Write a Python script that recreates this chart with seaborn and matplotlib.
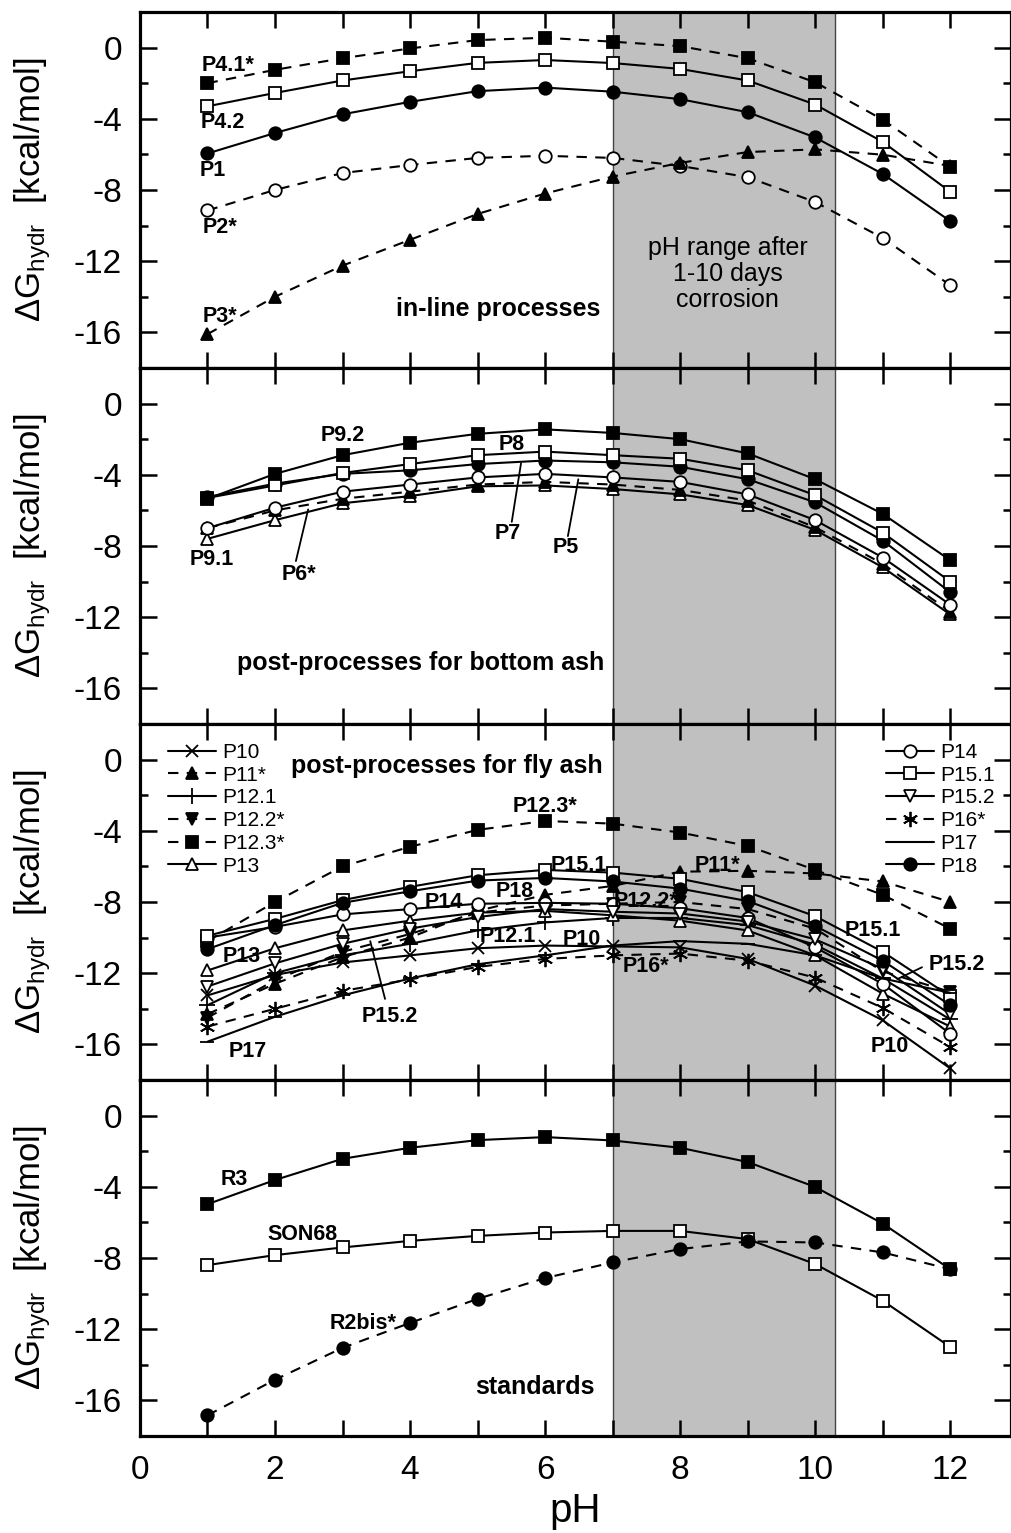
import numpy as np
import pandas as pd
import matplotlib
matplotlib.use("Agg")
import matplotlib.pyplot as plt
import seaborn as sns
from matplotlib.ticker import MultipleLocator

# ---------------- data ----------------
ph = [1, 2, 3, 4, 5, 6, 7, 8, 9, 10, 11, 12]

# panel 1: in-line processes
p4_1 = [-2.0, -1.25, -0.6, -0.05, 0.42, 0.55, 0.33, 0.08, -0.6, -1.95, -4.05, -6.7]
p4_2 = [-3.3, -2.55, -1.85, -1.33, -0.86, -0.7, -0.87, -1.2, -1.85, -3.2, -5.3, -8.1]
p1 = [-5.95, -4.8, -3.75, -3.05, -2.45, -2.25, -2.48, -2.9, -3.63, -5.05, -7.1, -9.75]
p2 = [-9.15, -8.0, -7.05, -6.6, -6.2, -6.08, -6.2, -6.65, -7.28, -8.68, -10.7, -13.35]
p3 = [-16.1, -14.0, -12.25, -10.8, -9.35, -8.2, -7.25, -6.48, -5.87, -5.72, -6.02, -6.65]

# panel 2: post-processes for bottom ash
p9_2 = [-5.35, -3.95, -2.9, -2.2, -1.7, -1.45, -1.65, -2.0, -2.8, -4.25, -6.2, -8.8]
p8 = [-5.3, -4.6, -3.9, -3.4, -2.9, -2.7, -2.9, -3.1, -3.75, -5.15, -7.25, -10.0]
p7 = [-5.25, -4.5, -3.95, -3.75, -3.4, -3.2, -3.3, -3.55, -4.25, -5.55, -7.7, -10.6]
p5 = [-7.0, -5.85, -4.95, -4.55, -4.15, -3.95, -4.15, -4.4, -5.1, -6.55, -8.65, -11.3]
p6 = [-7.0, -6.0, -5.35, -4.95, -4.55, -4.4, -4.55, -4.85, -5.45, -6.95, -9.0, -11.7]
p9_1 = [-7.6, -6.55, -5.6, -5.2, -4.65, -4.6, -4.8, -5.1, -5.7, -7.1, -9.2, -11.85]

# panel 3: post-processes for fly ash
p10 = [-13.25, -12.1, -11.4, -11.0, -10.6, -10.45, -10.5, -10.55, -11.2, -12.7, -14.65, -17.35]
p11 = [-14.3, -12.6, -11.1, -10.0, -8.5, -7.6, -7.1, -6.3, -6.25, -6.4, -6.85, -8.0]
p12_1 = [-13.8, -12.0, -11.0, -10.35, -9.6, -9.15, -8.9, -8.9, -9.3, -10.4, -12.3, -14.6]
p12_2 = [-14.5, -12.4, -10.8, -9.8, -8.6, -8.2, -8.1, -8.0, -8.4, -9.5, -11.9, -13.05]
p12_3 = [-10.2, -8.0, -6.0, -4.9, -3.95, -3.45, -3.6, -4.1, -4.85, -6.2, -7.6, -9.5]
p13 = [-11.85, -10.6, -9.6, -9.05, -8.6, -8.5, -8.75, -9.05, -9.6, -11.0, -13.15, -15.0]
p14 = [-10.0, -9.4, -8.7, -8.4, -8.1, -8.05, -8.1, -8.35, -8.9, -10.55, -12.6, -15.4]
p15_1 = [-9.9, -8.95, -7.9, -7.15, -6.5, -6.2, -6.35, -6.7, -7.45, -8.8, -10.8, -13.3]
p15_2 = [-12.75, -11.45, -10.35, -9.5, -8.85, -8.4, -8.55, -8.65, -9.1, -10.1, -11.75, -14.3]
p16 = [-15.0, -14.0, -13.0, -12.35, -11.65, -11.2, -11.0, -10.9, -11.3, -12.25, -13.95, -16.15]
p17 = [-15.85, -14.45, -13.25, -12.3, -11.5, -11.0, -10.45, -10.2, -10.35, -11.0, -12.3, -13.1]
p18 = [-10.65, -9.3, -8.05, -7.4, -6.8, -6.65, -6.85, -7.25, -7.95, -9.35, -11.3, -13.8]

# panel 4: standards
r3 = [-4.98, -3.62, -2.43, -1.81, -1.38, -1.21, -1.4, -1.81, -2.61, -4.01, -6.07, -8.63]
son68 = [-8.4, -7.84, -7.41, -7.04, -6.76, -6.57, -6.48, -6.48, -6.94, -8.34, -10.4, -13.0]
r2bis = [-16.84, -14.84, -13.05, -11.65, -10.3, -9.13, -8.25, -7.5, -7.07, -7.13, -7.69, -8.63]

corrosion_range = (7.0, 10.3)

# ---------------- style ----------------
sns.set_theme(style="ticks")
plt.rcParams["font.family"] = ["Liberation Sans", "DejaVu Sans"]
plt.rcParams["axes.unicode_minus"] = False
plt.rcParams["mathtext.fontset"] = "custom"
plt.rcParams["mathtext.rm"] = "Liberation Sans"
plt.rcParams["mathtext.it"] = "Liberation Sans:italic"
plt.rcParams["mathtext.bf"] = "Liberation Sans:bold"
for key in ["text.color", "axes.labelcolor", "xtick.color", "ytick.color", "axes.edgecolor"]:
    plt.rcParams[key] = "black"

DASH = (0, (5, 4))


def series(ax, y, marker, filled=True, dashed=False, ms=9):
    sns.lineplot(x=ph, y=y, ax=ax, color="black", marker=marker, markersize=ms,
                 markerfacecolor="black" if filled else "white",
                 markeredgecolor="black", markeredgewidth=1.3,
                 linestyle=DASH if dashed else "-", linewidth=1.5, zorder=3)
    return ax.get_lines()[-1]


fig = plt.figure(figsize=(10.12, 15.33), dpi=100)
left, right, bottom, top = 0.1383, 0.999, 0.0633, 0.9922
h = (top - bottom) / 4
axes = [fig.add_axes([left, top - (i + 1) * h, right - left, h]) for i in range(4)]

for i, ax in enumerate(axes):
    ax.axvspan(*corrosion_range, facecolor="#c0c0c0", edgecolor="#444444",
               linewidth=1.0, zorder=0)
    ax.set_xlim(0, 12.9)
    ax.set_ylim(-18, 2)
    ax.xaxis.set_major_locator(MultipleLocator(2))
    ax.xaxis.set_minor_locator(MultipleLocator(1))
    ax.yaxis.set_major_locator(MultipleLocator(4))
    ax.yaxis.set_minor_locator(MultipleLocator(2))
    ax.tick_params(which="both", direction="in", top=True, right=True,
                   width=1.8, colors="black", labelsize=24)
    ax.tick_params(axis="x", which="both", length=11.5, pad=14)
    ax.tick_params(axis="y", which="major", length=12, pad=13)
    ax.tick_params(axis="y", which="minor", length=6)
    for sp in ax.spines.values():
        sp.set_linewidth(2.3)
        sp.set_color("black")
    ax.set_ylabel(r"$\Delta$G$_{\rm hydr}$  [kcal/mol]", fontsize=25)
    ax.yaxis.set_label_coords(-0.1, 0.5)
    if i < 3:
        ax.tick_params(axis="x", labelbottom=False)
        ax.set_xlabel("")
    else:
        ax.set_xlabel("pH", fontsize=29, labelpad=4)

LB = dict(fontsize=15.5, fontweight="bold", ha="center", va="center", zorder=5, color="black")
TITLE = dict(fontsize=18, fontweight="bold", ha="center", va="center", zorder=5, color="black")
LEAD = dict(arrowstyle="-", color="black", lw=1.3)

# ---- panel 1 ----
ax = axes[0]
series(ax, p4_1, "s", True, True)
series(ax, p4_2, "s", False, False)
series(ax, p1, "o", True, False)
series(ax, p2, "o", False, True)
series(ax, p3, "^", True, True)
ax.text(1.3, -1.0, "P4.1*", **LB)
ax.text(1.22, -4.2, "P4.2", **LB)
ax.text(1.08, -6.9, "P1", **LB)
ax.text(1.18, -10.1, "P2*", **LB)
ax.text(1.18, -15.1, "P3*", **LB)
ax.text(5.3, -14.7, "in-line processes", **TITLE)
ax.text(8.7, -12.7, "pH range after\n1-10 days\ncorrosion", fontsize=18,
        ha="center", va="center", linespacing=1.1, zorder=5, color="black")

# ---- panel 2 ----
ax = axes[1]
series(ax, p9_1, "^", False, False)
series(ax, p6, "^", True, True)
series(ax, p5, "o", False, False)
series(ax, p7, "o", True, False)
series(ax, p8, "s", False, False)
series(ax, p9_2, "s", True, False)
ax.text(3.0, -1.8, "P9.2", **LB)
ax.text(5.5, -2.3, "P8", **LB)
ax.text(5.45, -7.3, "P7", **LB)
ax.annotate("", xy=(5.65, -3.2), xytext=(5.5, -6.8), arrowprops=LEAD)
ax.text(6.3, -8.1, "P5", **LB)
ax.annotate("", xy=(6.5, -4.1), xytext=(6.33, -7.6), arrowprops=LEAD)
ax.text(2.35, -9.6, "P6*", **LB)
ax.annotate("", xy=(2.5, -5.8), xytext=(2.3, -9.0), arrowprops=LEAD)
ax.text(1.07, -8.75, "P9.1", **LB)
ax.text(4.15, -14.6, "post-processes for bottom ash", **TITLE)

# ---- panel 3 ----
ax = axes[2]
h10 = series(ax, p10, "x", True, False)
h11 = series(ax, p11, "^", True, True)
h121 = series(ax, p12_1, "+", True, False, ms=11)
h122 = series(ax, p12_2, "v", True, True)
h123 = series(ax, p12_3, "s", True, True, ms=8)
h13 = series(ax, p13, "^", False, False)
h14 = series(ax, p14, "o", False, False)
h151 = series(ax, p15_1, "s", False, False)
h152 = series(ax, p15_2, "v", False, False)
h16 = series(ax, p16, (6, 2, 0), True, True, ms=11)
h17 = series(ax, p17, "_", True, False, ms=10)
h18 = series(ax, p18, "o", True, False)

leg_kw = dict(frameon=False, fontsize=15, handlelength=2.3, handletextpad=0.3,
              labelspacing=0.18, borderpad=0, borderaxespad=0, loc="upper left")
leg1 = ax.legend([h10, h11, h121, h122, h123, h13],
                 ["P10", "P11*", "P12.1", "P12.2*", "P12.3*", "P13"],
                 bbox_to_anchor=(0.032, 0.947), **leg_kw)
ax.add_artist(leg1)
ax.legend([h14, h151, h152, h16, h17, h18],
          ["P14", "P15.1", "P15.2", "P16*", "P17", "P18"],
          bbox_to_anchor=(0.857, 0.947), **leg_kw)

ax.text(4.55, -0.35, "post-processes for fly ash", **TITLE)
ax.text(6.0, -2.65, "P12.3*", **LB)
ax.text(6.5, -5.95, "P15.1", **LB)
ax.text(5.55, -7.4, "P18", **LB)
ax.text(4.5, -8.05, "P14", **LB)
ax.text(5.45, -9.95, "P12.1", **LB)
ax.text(6.55, -10.1, "P10", **LB)
ax.text(1.5, -11.05, "P13", **LB)
ax.text(3.7, -14.45, "P15.2", **LB)
ax.annotate("", xy=(3.4, -10.05), xytext=(3.64, -13.6), arrowprops=LEAD)
ax.text(1.6, -16.4, "P17", **LB)
ax.text(7.5, -7.95, "P12.2*", **LB)
ax.text(8.55, -5.95, "P11*", **LB)
ax.text(7.5, -11.6, "P16*", **LB)
ax.text(10.85, -9.6, "P15.1", **LB)
ax.text(12.1, -11.5, "P15.2", **LB)
ax.annotate("", xy=(11.18, -12.4), xytext=(11.62, -11.6), arrowprops=LEAD)
ax.text(11.1, -16.1, "P10", **LB)

# ---- panel 4 ----
ax = axes[3]
series(ax, r3, "s", True, False)
series(ax, son68, "s", False, False)
series(ax, r2bis, "o", True, True)
ax.text(1.4, -3.6, "R3", **LB)
ax.text(2.4, -6.66, "SON68", **LB)
ax.text(3.3, -11.7, "R2bis*", **LB)
ax.text(5.85, -15.25, "standards", **TITLE)

fig.savefig("out.png", dpi=100)
